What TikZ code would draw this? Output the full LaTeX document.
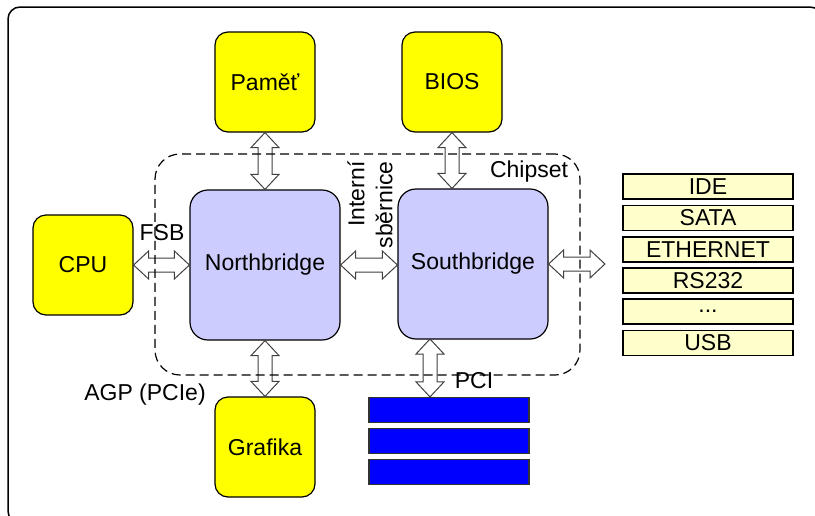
\documentclass[tikz,border=0pt]{standalone}
\usepackage{fontspec}
\setmainfont{Liberation Sans}
\usetikzlibrary{calc}

\definecolor{chipyellow}{HTML}{FFFF00}
\definecolor{bridge}{HTML}{CCCCFF}
\definecolor{portfill}{HTML}{FFFFCC}
\definecolor{slotblue}{HTML}{0000FF}

% hollow double-headed bus arrows (shaft 14pt, head 28pt wide, 15pt long)
\newcommand\hbus[2]{%
  \draw[busarrow] let \p1=(#1), \p2=(#2) in
    (\x1,\y1) -- ++(15pt,14pt) -- ++(0pt,-7pt) -- (\x2-15pt,\y1+7pt)
    -- ++(0pt,7pt) -- (\x2,\y1) -- ++(-15pt,-14pt) -- ++(0pt,7pt)
    -- (\x1+15pt,\y1-7pt) -- ++(0pt,-7pt) -- cycle;}
\newcommand\vbus[2]{%
  \draw[busarrow] let \p1=(#1), \p2=(#2) in
    (\x1,\y1) -- ++(14pt,-15pt) -- ++(-7pt,0pt) -- (\x1+7pt,\y2+15pt)
    -- ++(7pt,0pt) -- (\x1,\y2) -- ++(-14pt,15pt) -- ++(7pt,0pt)
    -- (\x1-7pt,\y1-15pt) -- ++(-7pt,0pt) -- cycle;}

\tikzset{
  every node/.style={font=\fontsize{23}{28}\selectfont, inner sep=0pt},
  device/.style={draw=black, line width=1.2pt, fill=chipyellow,
    rounded corners=13pt, minimum width=100pt, minimum height=100pt},
  bridgebox/.style={draw=black, line width=1.2pt, fill=bridge,
    rounded corners=18pt, minimum width=150pt, minimum height=150pt},
  port/.style={draw=black, line width=1.2pt, fill=portfill,
    minimum width=170pt, minimum height=25pt},
  slot/.style={draw=black!80, line width=1.2pt, fill=slotblue,
    minimum width=160pt, minimum height=25pt},
  busarrow/.style={draw=black!75, line width=1pt, fill=white, line join=miter},
  chipsetarea/.style={draw=black, line width=1.2pt, dash pattern=on 9pt off 5pt,
    rounded corners=25pt, minimum width=425pt, minimum height=221pt},
}

\begin{document}
\begin{tikzpicture}[x=1pt, y=-1pt]
\useasboundingbox (0,0) rectangle (815,515);
\begin{scope}
  \clip (0,0) rectangle (815,515);
  \draw[line width=1.5pt, rounded corners=12pt] (8,7) rectangle (822,523);
\end{scope}

% main blocks
\node[device] (mem) at (265,82) {Paměť};
\node[device] (bios) at (452,82) {BIOS};
\node[device] (cpu) at (83,265) {CPU};
\node[device] (gfx) at (265,447) {Grafika};
\node[bridgebox] (nb) at (265,265) {Northbridge};
\node[bridgebox] (sb) at (473,264) {Southbridge};

% peripheral interfaces
\node[port] (ide) at (708,186.5) {IDE};
\node[port] (sata) at (708,218) {SATA};
\node[port] (eth) at (708,249.5) {ETHERNET};
\node[port] (rs) at (708,280.5) {RS232};
\node[port] (dots) at (708,311.5) {...};
\node[port] (usb) at (708,343) {USB};

% PCI slots
\node[slot] (pci1) at (449,410) {};
\node[slot] (pci2) at (449,441) {};
\node[slot] (pci3) at (449,472) {};

% bus connections
\coordinate (sbout) at (605,264);
\coordinate (pcitap) at (430,339);
\hbus{cpu.east}{nb.west}
\hbus{nb.east}{sb.west}
\hbus{sb.east}{sbout}
\vbus{mem.south}{nb.north}
\vbus{bios.south}{bios.south |- sb.north}
\vbus{nb.south}{gfx.north}
\vbus{pcitap}{pcitap |- pci1.north}

% chipset boundary
\node[chipsetarea] (chipset) at (367.5,264.5) {};

% labels
\node (chipsetlbl) at (529,172) {Chipset};
\node (fsb) at (162,233) {FSB};
\node (pcilbl) at (474,381) {PCI};
\node (agp) at (145,395) {AGP (PCIe)};
\node[rotate=90, align=right] (internal) at (370,205) {Interní\\sběrnice};
\end{tikzpicture}
\end{document}
